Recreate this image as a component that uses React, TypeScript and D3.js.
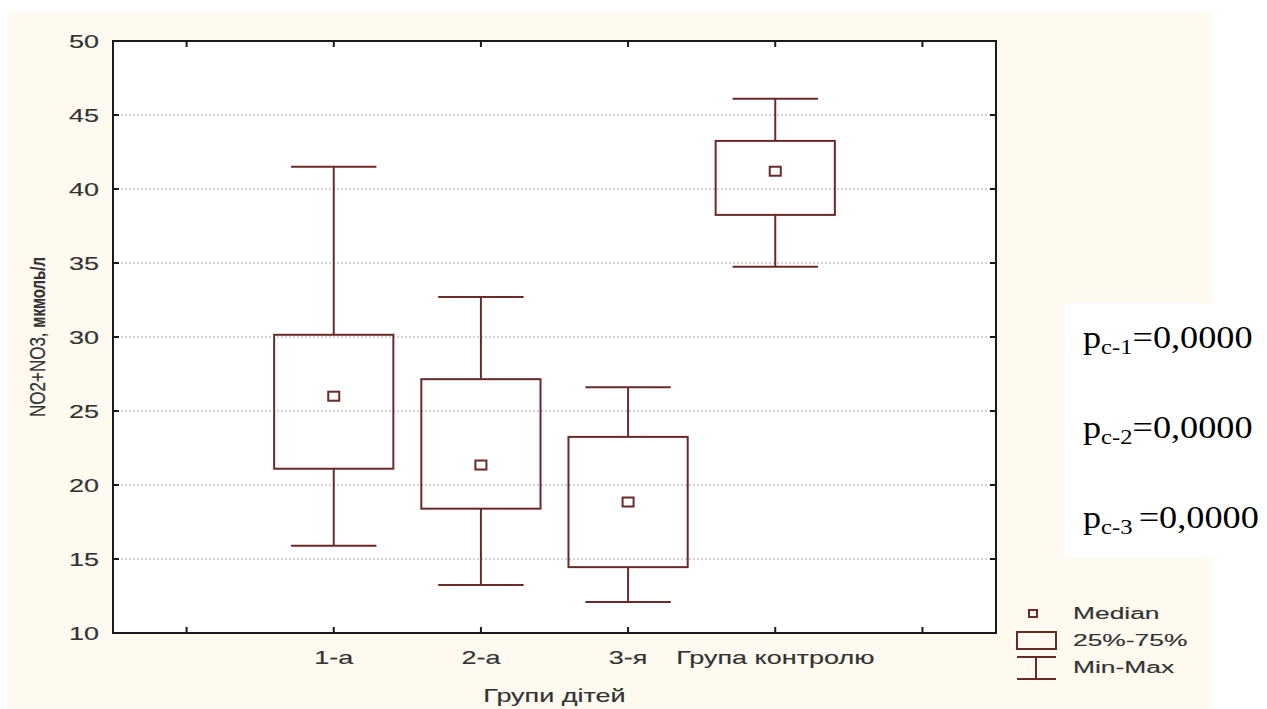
import React from 'react';
import * as d3 from 'd3';

// slots along the x axis (first and last are empty)
const slots = ['', '1-а', '2-а', '3-я', 'Група контролю', ''];
const groups = ['1-а', '2-а', '3-я', 'Група контролю'];
const mins = [15.9, 13.25, 12.1, 34.75];
const q1s = [21.1, 18.4, 14.45, 38.25];
const medians = [26.0, 21.35, 18.85, 41.2];
const q3s = [30.15, 27.15, 23.25, 43.25];
const maxs = [41.5, 32.7, 26.6, 46.1];
const yTicks = [10, 15, 20, 25, 30, 35, 40, 45, 50];
const pLabels = [
  { sub: 'c-1', rest: '=0,0000' },
  { sub: 'c-2', rest: '=0,0000' },
  { sub: 'c-3 ', rest: '=0,0000' },
];
const legendItems = ['Median', '25%-75%', 'Min-Max'];

const W = 1267;
const H = 709;
const plot = { left: 113, right: 996, top: 41, bottom: 633 };
const stroke = '#6a2a2a';
const textColor = '#333333';
const sansFont = '"Liberation Sans", Arial, sans-serif';
const SX = 1.5; // glyphs in the picture are stretched horizontally

function Stretched({ x, y, anchor = 'middle', size = 18, sx = SX, children }: any) {
  return (
    <g transform={`translate(${x},${y}) scale(${sx},1)`}>
      <text
        x={0}
        y={0}
        textAnchor={anchor}
        fontFamily={sansFont}
        fontSize={size}
        fill={textColor}
        stroke={textColor}
        strokeWidth={0.15}
      >
        {children}
      </text>
    </g>
  );
}

export default function App() {
  const x = d3.scaleLinear().domain([-0.5, slots.length - 0.5]).range([plot.left, plot.right]);
  const y = d3.scaleLinear().domain([10, 50]).range([plot.bottom, plot.top]);
  const step = x(1) - x(0);
  const boxW = step * 0.81;
  const capW = step * 0.58;
  const tick = 6;

  return (
    <div style={{ position: 'absolute', left: 0, top: 0 }}>
      <svg width={W} height={H} style={{ display: 'block' }}>
        <rect x={0} y={0} width={W} height={H} fill="#ffffff" />
        <rect x={7} y={12} width={1204} height={697} fill="#fffaef" />
        <rect
          x={plot.left}
          y={plot.top}
          width={plot.right - plot.left}
          height={plot.bottom - plot.top}
          fill="#ffffff"
        />

        {/* grid */}
        {yTicks.slice(1, -1).map(t => (
          <line
            key={'g' + t}
            x1={plot.left}
            x2={plot.right}
            y1={y(t)}
            y2={y(t)}
            stroke="#a8a8a8"
            strokeWidth={1}
            strokeDasharray="2,2"
          />
        ))}

        {/* boxes */}
        {groups.map((g, i) => {
          const cx = x(i + 1);
          return (
            <g key={g} stroke={stroke} strokeWidth={2} fill="none">
              <line x1={cx} x2={cx} y1={y(maxs[i])} y2={y(q3s[i])} />
              <line x1={cx} x2={cx} y1={y(q1s[i])} y2={y(mins[i])} />
              <line x1={cx - capW / 2} x2={cx + capW / 2} y1={y(maxs[i])} y2={y(maxs[i])} />
              <line x1={cx - capW / 2} x2={cx + capW / 2} y1={y(mins[i])} y2={y(mins[i])} />
              <rect x={cx - boxW / 2} y={y(q3s[i])} width={boxW} height={y(q1s[i]) - y(q3s[i])} />
              <rect x={cx - 5.5} y={y(medians[i]) - 4.5} width={11} height={9} />
            </g>
          );
        })}

        {/* frame */}
        <rect
          x={plot.left}
          y={plot.top}
          width={plot.right - plot.left}
          height={plot.bottom - plot.top}
          fill="none"
          stroke="#1a1a1a"
          strokeWidth={2}
        />
        {slots.map((s, i) => (
          <g key={'xt' + i} stroke="#1a1a1a" strokeWidth={2}>
            <line x1={x(i)} x2={x(i)} y1={plot.bottom} y2={plot.bottom - tick} />
            <line x1={x(i)} x2={x(i)} y1={plot.top} y2={plot.top + tick} />
          </g>
        ))}
        {yTicks.map(t => (
          <g key={'yt' + t} stroke="#1a1a1a" strokeWidth={2}>
            <line x1={plot.left} x2={plot.left + tick} y1={y(t)} y2={y(t)} />
            <line x1={plot.right} x2={plot.right - tick} y1={y(t)} y2={y(t)} />
          </g>
        ))}

        {/* y tick labels */}
        {yTicks.map(t => (
          <Stretched key={'yl' + t} x={plot.left - 14} y={y(t) + 6.5} anchor="end">
            {t}
          </Stretched>
        ))}

        {/* x tick labels */}
        {slots.map((s, i) =>
          s ? (
            <Stretched key={'xl' + i} x={x(i)} y={plot.bottom + 31}>
              {s}
            </Stretched>
          ) : null
        )}
        <Stretched x={(plot.left + plot.right) / 2} y={plot.bottom + 69}>
          Групи дітей
        </Stretched>

        {/* y axis title */}
        <g transform={`translate(45,${(plot.top + plot.bottom) / 2}) rotate(-90) scale(1,1.35)`}>
          <text
            textAnchor="middle"
            fontFamily={sansFont}
            fontSize={17}
            fill={textColor}
            stroke={textColor}
            strokeWidth={0.15}
          >
            NO2+NO3, <tspan fontWeight="bold" fontSize={15}>мкмоль/л</tspan>
          </text>
        </g>

        {/* legend */}
        <g stroke={stroke} strokeWidth={2} fill="none">
          <rect x={1029} y={610} width={8} height={7} />
          <rect x={1017} y={632} width={39} height={17} />
          <line x1={1017} x2={1056} y1={657} y2={657} />
          <line x1={1036} x2={1036} y1={657} y2={679} />
          <line x1={1017} x2={1056} y1={679} y2={679} />
        </g>
        {legendItems.map((t, i) => (
          <Stretched key={t} x={1073} y={619 + i * 27} anchor="start" size={16} sx={1.65}>
            {t}
          </Stretched>
        ))}

        {/* p-values box */}
        <rect x={1065} y={303} width={W - 1065} height={254} fill="#ffffff" />
        {pLabels.map((p, i) => (
          <g key={'p' + i} transform={`translate(1083,${348 + i * 90}) scale(1.17,1)`}>
            <text x={0} y={0} fontFamily='"Liberation Serif", "Times New Roman", serif' fontSize={31} fill="#000">
              p
              <tspan fontSize={21} dy={6}>
                {p.sub}
              </tspan>
              <tspan fontSize={31} dy={-6}>
                {p.rest}
              </tspan>
            </text>
          </g>
        ))}
      </svg>
    </div>
  );
}
